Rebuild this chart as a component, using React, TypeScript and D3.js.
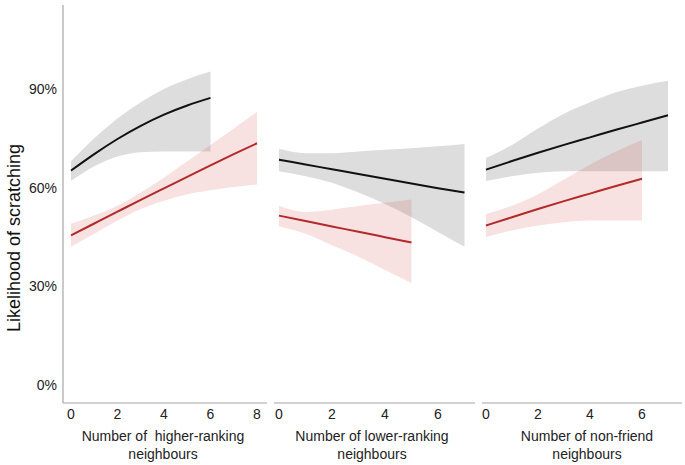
import React from "react";
import * as d3 from "d3";

// ---- Data (percent likelihood of scratching) ----
const yTicks = [0, 30, 60, 90];

// Panel 1: higher-ranking neighbours
const p1Ticks = [0, 2, 4, 6, 8];
const p1BlackX = [0, 1, 2, 3, 4, 5, 6];
const p1BlackMean = [65.2, 70.2, 74.8, 78.8, 82.2, 85, 87.3];
const p1BlackUpper = [68, 75, 81, 86, 90, 93, 95.3];
const p1BlackLower = [62, 66.5, 69.5, 70.8, 71, 71, 71];
const p1RedX = [0, 1, 2, 3, 4, 5, 6, 7, 8];
const p1RedMean = [45.5, 49.1, 52.7, 56.3, 59.8, 63.3, 66.8, 70.2, 73.5];
const p1RedUpper = [49, 51.5, 54.5, 58.5, 63, 68, 73, 78, 83];
const p1RedLower = [42, 46, 50, 53.5, 56, 58, 59.2, 60.2, 61];

// Panel 2: lower-ranking neighbours
const p2Ticks = [0, 2, 4, 6];
const p2BlackX = [0, 1, 2, 3, 4, 5, 6, 7];
const p2BlackMean = [68.5, 67.05, 65.6, 64.15, 62.7, 61.25, 59.85, 58.5];
const p2BlackUpper = [71.8, 70.5, 70.5, 71, 71.5, 72, 72.6, 73.3];
const p2BlackLower = [65, 63.5, 61.5, 58.5, 55, 51, 46.5, 42];
const p2RedX = [0, 1, 2, 3, 4, 5];
const p2RedMean = [51.5, 49.85, 48.2, 46.6, 44.95, 43.3];
const p2RedUpper = [54.5, 52.6, 53.3, 54.4, 55.4, 56.4];
const p2RedLower = [48.3, 46, 42.5, 39, 35, 31];

// Panel 3: non-friend neighbours
const p3Ticks = [0, 2, 4, 6];
const p3BlackX = [0, 1, 2, 3, 4, 5, 6, 7];
const p3BlackMean = [65.5, 68.1, 70.6, 73, 75.3, 77.6, 79.8, 82];
const p3BlackUpper = [69, 73, 78, 82.5, 86, 89, 91, 92.5];
const p3BlackLower = [62, 63.5, 64.5, 65, 65, 65, 65, 65];
const p3RedX = [0, 1, 2, 3, 4, 5, 6];
const p3RedMean = [48.5, 51.0, 53.5, 55.9, 58.2, 60.5, 62.7];
const p3RedUpper = [52, 54.5, 58, 62.5, 67, 71, 74.5];
const p3RedLower = [45, 47, 48.5, 49.5, 50, 50, 50];

const titles = [
  ["Number of  higher-ranking", "neighbours"],
  ["Number of lower-ranking", "neighbours"],
  ["Number of non-friend", "neighbours"],
];

type Series = { x: number[]; mean: number[]; upper: number[]; lower: number[] };
type Panel = {
  ticks: number[];
  domain: [number, number];
  range: [number, number];
  axis: [number, number];
  titleX: number;
  black: Series;
  red: Series;
};

const panels: Panel[] = [
  {
    ticks: p1Ticks, domain: [0, 8], range: [71, 257], axis: [63, 267], titleX: 163,
    black: { x: p1BlackX, mean: p1BlackMean, upper: p1BlackUpper, lower: p1BlackLower },
    red: { x: p1RedX, mean: p1RedMean, upper: p1RedUpper, lower: p1RedLower },
  },
  {
    ticks: p2Ticks, domain: [0, 6], range: [279, 438], axis: [274, 475], titleX: 372,
    black: { x: p2BlackX, mean: p2BlackMean, upper: p2BlackUpper, lower: p2BlackLower },
    red: { x: p2RedX, mean: p2RedMean, upper: p2RedUpper, lower: p2RedLower },
  },
  {
    ticks: p3Ticks, domain: [0, 6], range: [486, 642], axis: [482, 682], titleX: 587,
    black: { x: p3BlackX, mean: p3BlackMean, upper: p3BlackUpper, lower: p3BlackLower },
    red: { x: p3RedX, mean: p3RedMean, upper: p3RedUpper, lower: p3RedLower },
  },
];

const W = 685;
const H = 465;
const FONT = "'Liberation Sans', Arial, sans-serif";
const y = d3.scaleLinear().domain([0, 90]).range([385, 89]);
const AXIS_Y = 403;

export default function App() {
  return (
    <svg width={W} height={H} style={{ position: "absolute", left: 0, top: 0, background: "#fff" }}>
      {/* Y axis */}
      <line x1={63} x2={63} y1={5} y2={AXIS_Y} stroke="#a6a6a6" strokeWidth={1.2} />
      {yTicks.map((t) => (
        <text key={t} x={57} y={y(t)} dy="0.35em" textAnchor="end" fontFamily={FONT} fontSize={14} fill="#222">
          {t}%
        </text>
      ))}
      <text
        transform={`translate(20,${238}) rotate(-90)`}
        textAnchor="middle"
        fontFamily={FONT}
        fontSize={18}
        fill="#111"
      >
        Likelihood of scratching
      </text>
      {panels.map((p, i) => {
        const x = d3.scaleLinear().domain(p.domain).range(p.range);
        const area = (s: Series) =>
          d3
            .area<number>()
            .x((_, k) => x(s.x[k]))
            .y0((_, k) => y(s.lower[k]))
            .y1((_, k) => y(s.upper[k]))
            .curve(d3.curveMonotoneX)(s.x) || "";
        const line = (s: Series) =>
          d3
            .line<number>()
            .x((_, k) => x(s.x[k]))
            .y((_, k) => y(s.mean[k]))
            .curve(d3.curveNatural)(s.x) || "";
        return (
          <g key={i}>
            <path d={area(p.black)} fill="rgb(128,128,128)" fillOpacity={0.27} />
            <path d={area(p.red)} fill="rgb(205,80,80)" fillOpacity={0.17} />
            <path d={line(p.black)} fill="none" stroke="#111" strokeWidth={2} />
            <path d={line(p.red)} fill="none" stroke="#b22a2a" strokeWidth={2} />
            <line x1={p.axis[0]} x2={p.axis[1]} y1={AXIS_Y} y2={AXIS_Y} stroke="#a6a6a6" strokeWidth={1.2} />
            {p.ticks.map((t) => (
              <text key={t} x={x(t)} y={419} textAnchor="middle" fontFamily={FONT} fontSize={14} fill="#222">
                {t}
              </text>
            ))}
            {titles[i].map((s, k) => (
              <text
                key={k}
                x={p.titleX}
                y={441 + k * 18}
                textAnchor="middle"
                fontFamily={FONT}
                fontSize={14}
                fill="#222"
                style={{ whiteSpace: "pre" }}
              >
                {s}
              </text>
            ))}
          </g>
        );
      })}
    </svg>
  );
}
